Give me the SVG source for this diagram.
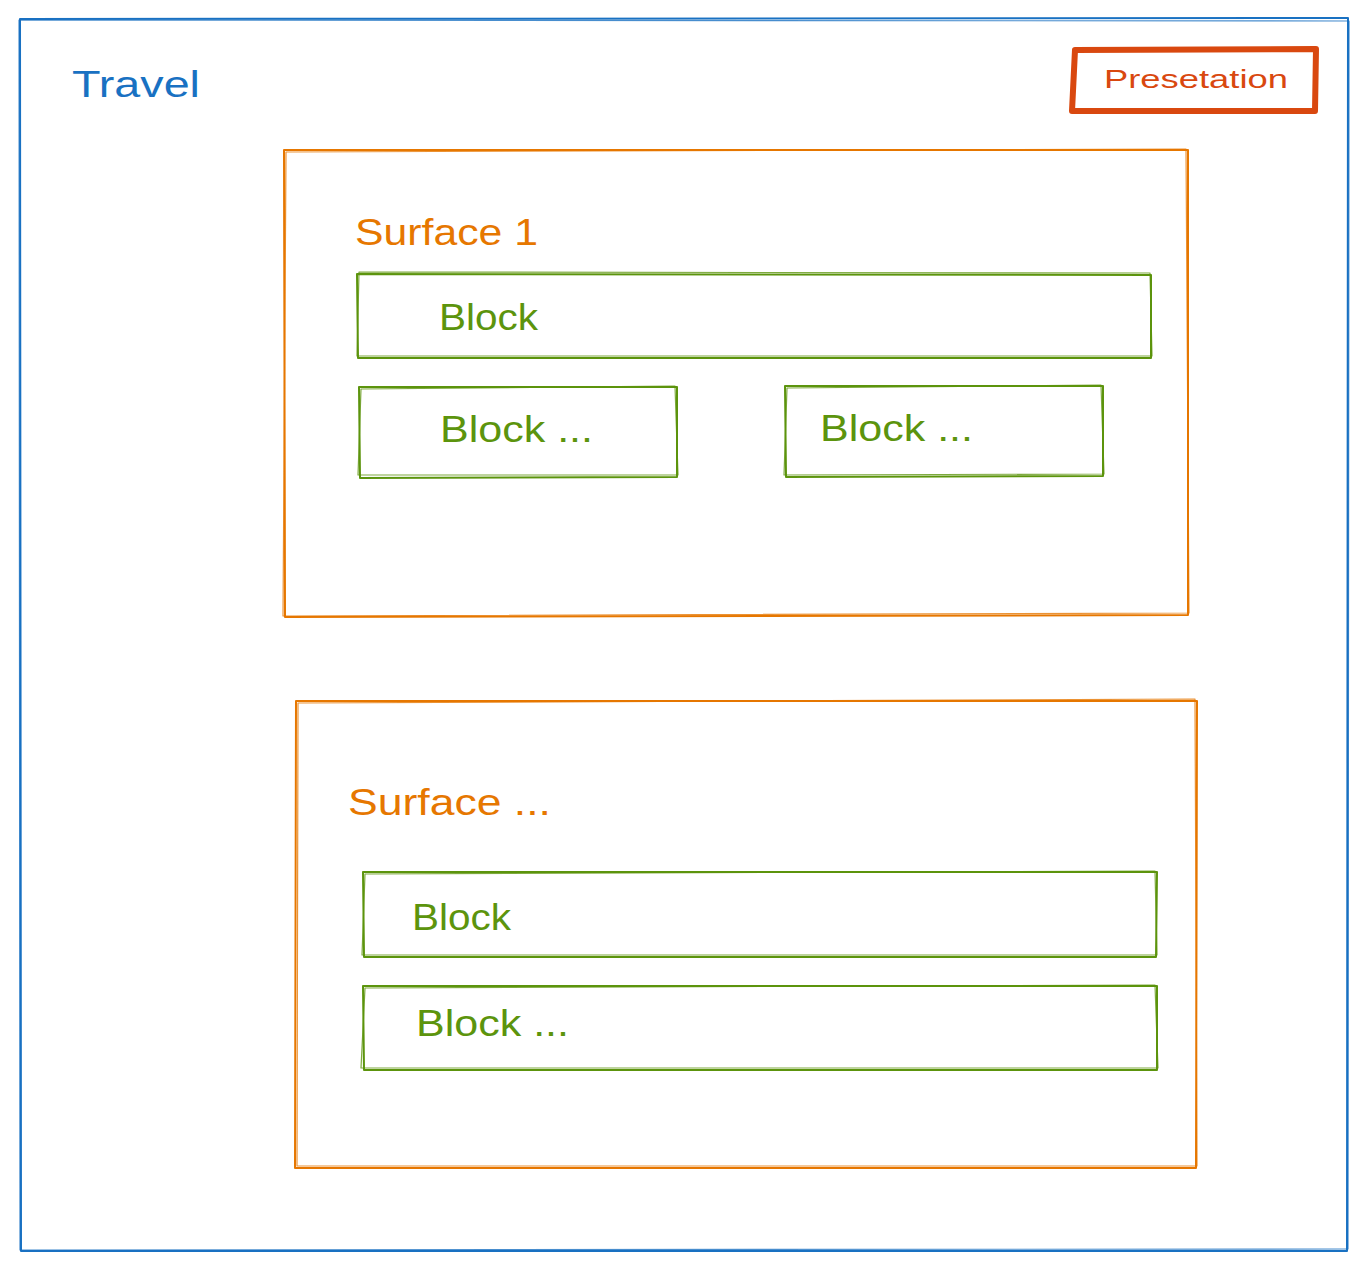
<svg xmlns="http://www.w3.org/2000/svg" width="1368" height="1271" viewBox="0 0 1368 1271">
<style>
.blue{fill:none;stroke:#1971c2;stroke-width:2;stroke-linecap:round;stroke-linejoin:round}
.orange{fill:none;stroke:#e67700;stroke-width:2;stroke-linecap:round;stroke-linejoin:round}
.green{fill:none;stroke:#5c940d;stroke-width:2;stroke-linecap:round;stroke-linejoin:round}
.red{fill:none;stroke:#d9480f;stroke-width:6;stroke-linecap:round;stroke-linejoin:round}
.thin{stroke-width:1.2;opacity:0.8}
text{font-family:"Liberation Sans","DejaVu Sans",sans-serif;font-weight:normal}
.tblue{fill:#1971c2;font-size:36px}
.torange{fill:#e67700;font-size:36px}
.tgreen{fill:#5c940d;font-size:36px}
.tred{fill:#d9480f;font-size:26px}
</style>
<rect width="1368" height="1271" fill="#ffffff"/>

<g id="travel">
  <path class="blue" d="M20 19 L1348 18 L1347 1251 L21 1251 Z"/>
  <path class="blue thin" d="M19 20 L1349 21 L1348 1249 L20 1250 Z"/>
  <text class="tblue" x="72" y="97" textLength="128" lengthAdjust="spacingAndGlyphs">Travel</text>
</g>

<g id="presetation">
  <path class="red" d="M1075 50 L1316 49 L1315 111 L1072 111 Z"/>
  <text class="tred" x="1104" y="88" textLength="184" lengthAdjust="spacingAndGlyphs">Presetation</text>
</g>

<g id="surface1">
  <path class="orange" d="M284 150 L1188 150 L1188 615 L285 617 Z"/>
  <path class="orange thin" d="M286 152 L1186 149 L1189 613 L283 616 Z"/>
  <text class="torange" x="355" y="245" textLength="183" lengthAdjust="spacingAndGlyphs">Surface 1</text>
</g>

<g id="s1-block">
  <path class="green" d="M357 274 L1151 275 L1151 358 L358 358 Z"/>
  <path class="green thin" d="M359 272 L1150 273 L1152 356 L357 356 Z"/>
  <text class="tgreen" x="439" y="330" textLength="99" lengthAdjust="spacingAndGlyphs">Block</text>
</g>

<g id="s1-block-a">
  <path class="green" d="M359 387 L677 387 L677 477 L360 478 Z"/>
  <path class="green thin" d="M361 389 L675 386 L678 475 L358 475 Z"/>
  <text class="tgreen" x="440" y="442" textLength="153" lengthAdjust="spacingAndGlyphs">Block ...</text>
</g>

<g id="s1-block-b">
  <path class="green" d="M785 386 L1103 386 L1103 476 L786 477 Z"/>
  <path class="green thin" d="M787 388 L1101 385 L1104 474 L784 475 Z"/>
  <text class="tgreen" x="820" y="441" textLength="153" lengthAdjust="spacingAndGlyphs">Block ...</text>
</g>

<g id="surface2">
  <path class="orange" d="M296 701 L1197 701 L1196 1168 L295 1168 Z"/>
  <path class="orange thin" d="M298 703 L1195 699 L1197 1166 L297 1166 Z"/>
  <text class="torange" x="348" y="815" textLength="203" lengthAdjust="spacingAndGlyphs">Surface ...</text>
</g>

<g id="s2-block">
  <path class="green" d="M363 872 L1157 872 L1156 957 L364 957 Z"/>
  <path class="green thin" d="M365 874 L1155 871 L1157 955 L362 955 Z"/>
  <text class="tgreen" x="412" y="930" textLength="99" lengthAdjust="spacingAndGlyphs">Block</text>
</g>

<g id="s2-block-a">
  <path class="green" d="M363 986 L1157 986 L1157 1070 L364 1070 Z"/>
  <path class="green thin" d="M365 988 L1155 985 L1158 1068 L361 1068 Z"/>
  <text class="tgreen" x="416" y="1036" textLength="153" lengthAdjust="spacingAndGlyphs">Block ...</text>
</g>

<g id="connectors"></g>
</svg>
